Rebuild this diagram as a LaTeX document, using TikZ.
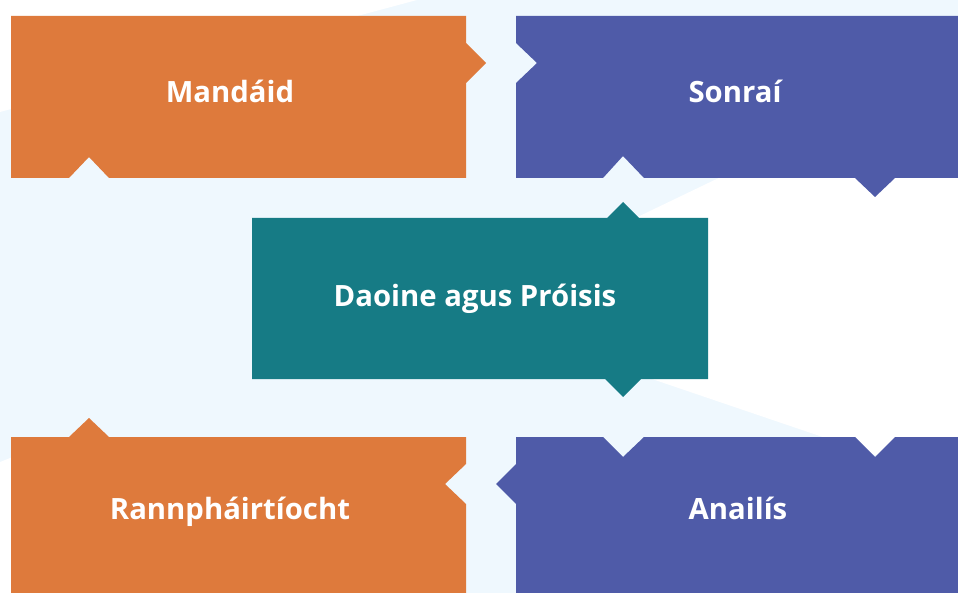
\documentclass[tikz,border=0pt]{standalone}
\usepackage{fontspec}
\setmainfont{Open Sans}
\definecolor{bgblue}{HTML}{EFF8FE}
\definecolor{orangebox}{HTML}{DE7A3C}
\definecolor{purplebox}{HTML}{4F5BA8}
\definecolor{tealbox}{HTML}{167B85}
\begin{document}
\begin{tikzpicture}[x=1pt,y=-1pt,
  label/.style={text=white,font=\fontsize{29.3}{33}\selectfont\bfseries,anchor=base,inner sep=0pt}]
\useasboundingbox (0,0) rectangle (958,593);
% background
\fill[bgblue] (0,0) rectangle (958,593);
\fill[white] (0,0) -- (417,0) -- (0,112) -- cycle;
\fill[white] (446,309) -- (958,63) -- (958,483) -- cycle;
\fill[white] (0,462) -- (30,450) -- (30,593) -- (0,593) -- cycle;
% Mandaid
\fill[orangebox] (11,16) -- (466,16) -- (466,43) -- (486,63) -- (466,83) -- (466,178)
  -- (109,178) -- (89,157) -- (69,178) -- (11,178) -- cycle;
% Sonrai
\fill[purplebox] (516,16) -- (958,16) -- (958,178) -- (895,178) -- (875,197) -- (855,178)
  -- (644,178) -- (623,156) -- (603,178) -- (516,178) -- (516,83) -- (537,63) -- (516,43) -- cycle;
% Central
\fill[tealbox] (252,218) -- (607,218) -- (623,202) -- (639,218) -- (708,218) -- (708,379)
  -- (641,379) -- (623,397) -- (605,379) -- (252,379) -- cycle;
% Rannphairtiocht
\fill[orangebox] (11,437) -- (69,437) -- (89,418) -- (109,437) -- (466,437) -- (466,464)
  -- (445,484) -- (466,504) -- (466,593) -- (11,593) -- cycle;
% Analis
\fill[purplebox] (516,437) -- (603,437) -- (623,457) -- (644,437) -- (855,437) -- (875,457)
  -- (895,437) -- (958,437) -- (958,593) -- (516,593) -- (516,504) -- (496,484) -- (516,464) -- cycle;
% labels
\node[label] (mandaid) at (230,103) {Mandáid};
\node[label] (sonrai) at (735,103) {Sonraí};
\node[label] (daoine) at (475,307) {Daoine agus Próisis};
\node[label] (rannph) at (230,519) {Rannpháirtíocht};
\node[label] (anailis) at (738,519) {Anailís};
\end{tikzpicture}
\end{document}
